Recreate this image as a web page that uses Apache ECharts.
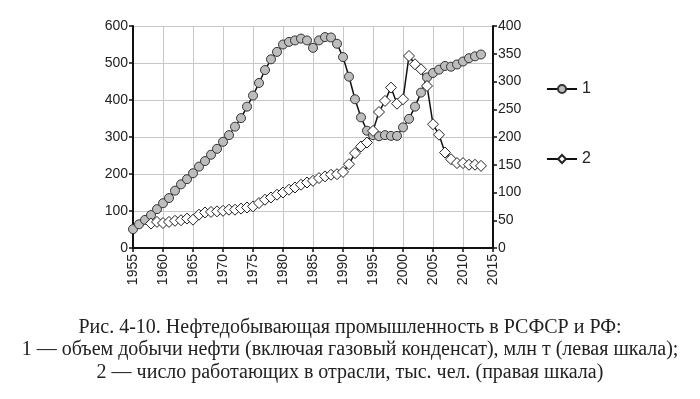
<!DOCTYPE html>
<html>
<head>
<meta charset="utf-8">
<script src="https://cdn.jsdelivr.net/npm/echarts@6/dist/echarts.min.js"></script>
<style>
  html, body { margin: 0; padding: 0; background: #fff; }
  #main { width: 700px; height: 399px; }
</style>
</head>
<body>
<div id="main"></div>
<script>
// 1 — добыча нефти, млн т (левая шкала), 1955–2013
var oilYears = [];
for (var y = 1955; y <= 2013; y++) oilYears.push(y);
var oilValues = [
  51, 64, 76, 89, 105, 121, 135, 155, 172, 186,
  202, 220, 235, 252, 268, 287, 305, 328, 351, 382,
  412, 446, 481, 510, 530, 550, 557, 561, 566, 561,
  541, 561, 570, 569, 552, 516, 463, 402, 353, 317,
  305, 302, 305, 303, 303, 326, 349, 382, 420, 461,
  473, 482, 492, 490, 496, 504, 513, 518, 523
];
// 2 — число работающих, тыс. чел. (правая шкала), 1958–2013
var workYears = [];
for (var y2 = 1958; y2 <= 2013; y2++) workYears.push(y2);
var workValues = [
  44, 47, 45, 47, 49, 50, 53, 51, 60, 64,
  65, 66, 67, 69, 69, 71, 73, 75, 81, 87,
  91, 96, 100, 105, 109, 114, 118, 121, 126, 129,
  132, 133, 137, 151, 171, 183, 190, 211, 245, 265,
  289, 260, 268, 346, 331, 322, 292, 223, 204, 172,
  160, 153, 153, 150, 150, 148
];
var seriesNames = ['1', '2'];
var captionLines = [
  'Рис. 4-10. Нефтедобывающая промышленность в РСФСР и РФ:',
  '1 — объем добычи нефти (включая газовый конденсат), млн т (левая шкала);',
  '2 — число работающих в отрасли, тыс. чел. (правая шкала)'
];

var chart = echarts.init(document.getElementById('main'));
var axisFont = { fontFamily: 'Liberation Sans', fontSize: 14, color: '#222' };
var option = {
  animation: false,
  title: {
    text: captionLines.join('\n'),
    left: 'center',
    top: 311,
    textStyle: {
      fontFamily: 'Liberation Serif',
      fontWeight: 'normal',
      fontSize: 20,
      lineHeight: 22.5,
      color: '#222'
    }
  },
  legend: {
    orient: 'vertical',
    left: 541,
    top: 76,
    itemGap: 54,
    itemWidth: 30,
    itemHeight: 10,
    textStyle: { fontFamily: 'Liberation Sans', fontSize: 16, color: '#222' },
    data: seriesNames
  },
  grid: { left: 133, right: 207, top: 26, bottom: 151 },
  xAxis: {
    type: 'value',
    min: 1955,
    max: 2015,
    interval: 5,
    axisLine: { lineStyle: { color: '#111', width: 2 } },
    axisTick: { lineStyle: { color: '#111', width: 1.5 }, length: 4 },
    axisLabel: Object.assign({
      rotate: 90,
      margin: 6,
      formatter: function (v) { return String(v); }
    }, axisFont),
    splitLine: { show: true, lineStyle: { color: '#c8c8c8', width: 1 } }
  },
  yAxis: [
    {
      type: 'value',
      min: 0,
      max: 600,
      interval: 100,
      axisLine: { show: true, lineStyle: { color: '#111', width: 2 } },
      axisTick: { show: true, lineStyle: { color: '#111', width: 1.5 }, length: 4 },
      axisLabel: Object.assign({ margin: 5 }, axisFont),
      splitLine: { show: true, lineStyle: { color: '#c8c8c8', width: 1 } }
    },
    {
      type: 'value',
      min: 0,
      max: 400,
      interval: 50,
      position: 'right',
      axisLine: { show: true, lineStyle: { color: '#111', width: 2 } },
      axisTick: { show: true, lineStyle: { color: '#111', width: 1.5 }, length: 4 },
      axisLabel: Object.assign({ margin: 5 }, axisFont),
      splitLine: { show: false }
    }
  ],
  series: [
    {
      name: seriesNames[0],
      type: 'line',
      yAxisIndex: 0,
      data: oilYears.map(function (yr, i) { return [yr, oilValues[i]]; }),
      symbol: 'circle',
      symbolSize: 9,
      lineStyle: { color: '#111', width: 1.5 },
      itemStyle: { color: '#bdbdbd', borderColor: '#333', borderWidth: 1 }
    },
    {
      name: seriesNames[1],
      type: 'line',
      yAxisIndex: 1,
      data: workYears.map(function (yr, i) { return [yr, workValues[i]]; }),
      symbol: 'diamond',
      symbolSize: 11,
      lineStyle: { color: '#111', width: 1.5 },
      itemStyle: { color: '#fff', borderColor: '#222', borderWidth: 1 }
    }
  ]
};
chart.setOption(option);
</script>
</body>
</html>
